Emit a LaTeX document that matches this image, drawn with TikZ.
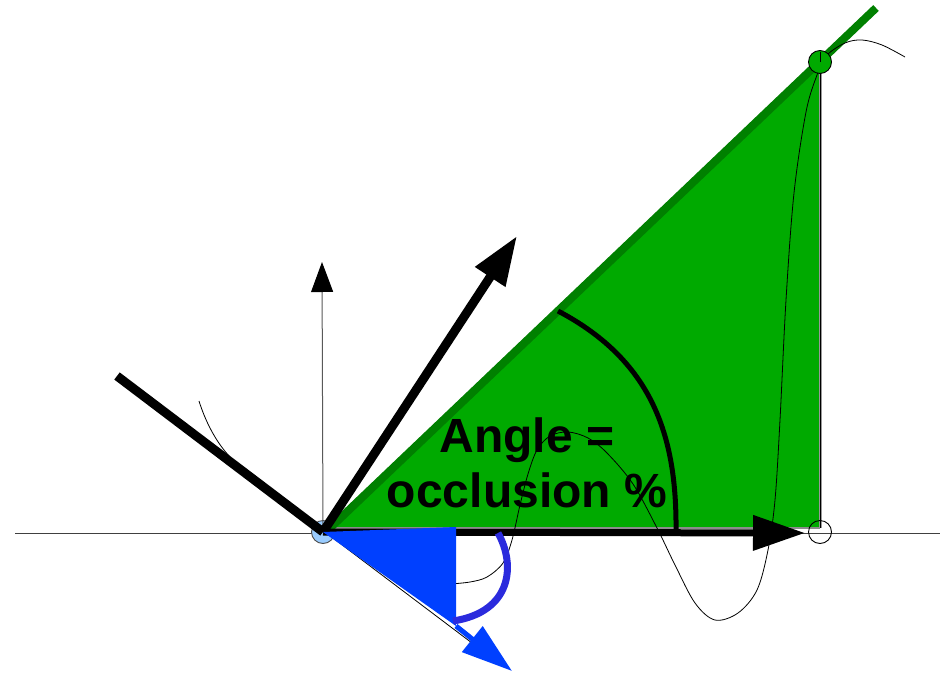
\documentclass[tikz,border=0pt]{standalone}
\usepackage{fontspec}
\setmainfont{Liberation Sans}
\usetikzlibrary{arrows.meta}
\definecolor{gfill}{HTML}{00AA00}
\definecolor{gedge}{HTML}{008000}
\definecolor{bfill}{HTML}{0040FF}
\definecolor{barc}{HTML}{2B2BDD}
\definecolor{lblue}{HTML}{99CCFF}
\tikzset{
  thinline/.style={line width=0.8pt, black},
  thickline/.style={line width=9pt, black},
  bigtip/.style={-{Triangle[length=52pt,width=34pt]}},
  lbltext/.style={anchor=base, font=\bfseries\fontsize{48}{55}\selectfont, inner sep=0pt},
  dot/.style={circle, draw=black, line width=0.9pt, minimum size=23pt, inner sep=0pt}
}
\begin{document}
\begin{tikzpicture}[x=1pt,y=-1pt]
\useasboundingbox[fill=white] (0,0) rectangle (945,672);
\coordinate (O) at (323,532);
\coordinate (axL) at (15,533);
\coordinate (axR) at (940,533);
\coordinate (upTip) at (322,262);
\coordinate (lineEnd) at (117,376);
\coordinate (diagTip) at (517,236);
\coordinate (xTip) at (805,533);
\coordinate (gA) at (330,528);
\coordinate (gB) at (820,62);
\coordinate (gC) at (820,528);
\coordinate (gExt) at (876,8);
\coordinate (bB) at (456,527);
\coordinate (bC) at (456,626);
\coordinate (bTip) at (512,671);
% axis
\draw[line width=1pt, black!75] (axL) -- (axR);
% origin dot
\node[dot, fill=lblue, draw=black!70] (od) at (O) {};
% vertical thin arrow
\draw[line width=1pt, black!65, -{Triangle[length=30pt,width=22pt,fill=black,color=black]}] (O) -- (upTip);
% green triangle
\fill[gfill] (gA) -- (gB) -- (gC) -- cycle;
\draw[line width=2pt, black!45] (gA) -- (gC);
\draw[line width=3pt, black!40] (gB) -- (gC);
\draw[line width=0.7pt, black] (gB) -- (gC);
\draw[gedge, line width=8pt] (gA) -- (gExt);
% thin curves
\draw[thinline] (199,401) .. controls (205,420) and (215,441) .. (230,457);
\draw[thinline] plot[smooth, tension=0.55] coordinates {(450,584) (470,582) (487,577) (503,563) (512,540) (520,505) (528,474) (537,450) (550,436) (568,432) (588,438) (607,453) (633,484) (657,528) (675,565) (695,603) (715,620) (738,613) (757,590) (768,550) (775,500) (780,420) (786,300) (794,193) (806,112) (817,75) (826,56) (845,43) (862,40) (882,45) (905,57)};
% black angle arc
\draw[line width=5pt, black] (676,532) .. controls (677,440) and (655,362) .. (558,311);
% thick black line
\draw[thickline] (lineEnd) -- (O);
% thick arrows
\draw[thickline, -{Triangle[length=49pt,width=34pt]}] (O) -- (diagTip);
\draw[line width=7pt, black, bigtip] (O) -- (xTip);
% label
\node[lbltext] (l1) at (527,452) {Angle =};
\node[lbltext] (l2) at (527,507) {occlusion \%};
% blue part
\draw[line width=0.8pt, black] ([yshift=1.5pt]O) -- (472,643);
\draw[bfill, line width=5pt, -{Triangle[length=51pt,width=32pt]}] (bC) -- (bTip);
\fill[bfill] (O) -- (bB) -- (bC) -- cycle;
\draw[barc, line width=7pt] (498,533) .. controls (516,565) and (512,612) .. (453,621);
% end dots
\node[dot, fill=gfill] (gd) at (gB) {};
\draw[line width=0.7pt, black] (gB) -- ([yshift=10pt]gB);
\node[dot] (xd) at (820,532) {};
\end{tikzpicture}
\end{document}
